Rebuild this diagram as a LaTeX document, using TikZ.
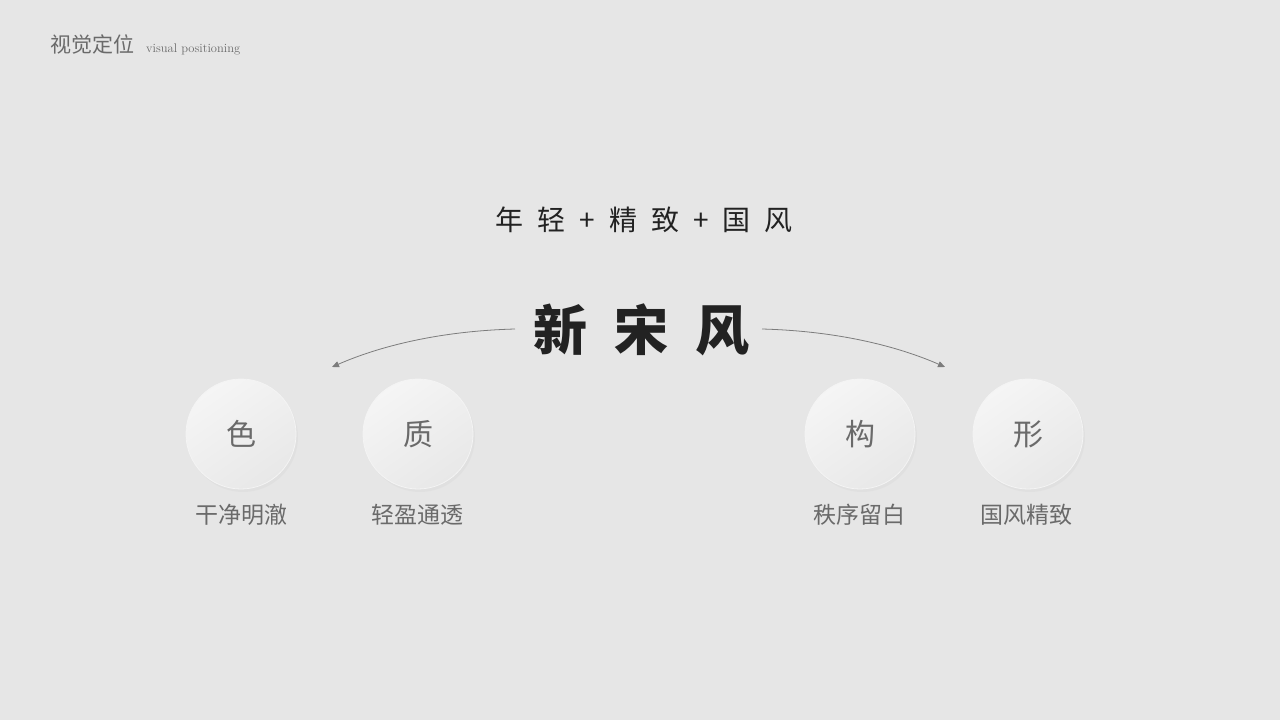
\documentclass[tikz,border=0pt]{standalone}
\usepackage{fontspec}
\newfontfamily\cjk{Noto Sans CJK SC}
\usetikzlibrary{arrows.meta,shadows}
\definecolor{bg}{HTML}{E6E6E6}
\definecolor{txtgray}{HTML}{6A6A6A}
\definecolor{ink}{HTML}{222222}
\definecolor{arrowgray}{HTML}{7C7C7C}
\definecolor{balltop}{HTML}{F5F5F5}
\definecolor{ballbot}{HTML}{E8E8E8}
\tikzset{
  ball/.style={circle, minimum size=110pt, inner sep=0pt,
    top color=balltop, bottom color=ballbot, shading angle=35,
    draw=white!55!bg, line width=0.8pt,
    drop shadow={opacity=0.05, shadow xshift=2pt, shadow yshift=-3pt},
    font=\cjk\fontsize{30}{30}\selectfont, text=txtgray},
  caption/.style={font=\cjk\fontsize{23}{23}\selectfont, text=txtgray},
  bend arrow/.style={arrowgray, line width=0.8pt, -{Triangle[length=7pt,width=6pt]}}
}
\begin{document}
\begin{tikzpicture}[x=1pt,y=-1pt]

\fill[bg] (0,0) rectangle (1280,720);
\useasboundingbox (0,0) rectangle (1280,720);

% header
\node[anchor=west, inner sep=0pt, text=txtgray, font=\cjk\fontsize{21}{21}\selectfont] (hdr) at (50,44) {视觉定位};
\node[anchor=base west, inner sep=0pt, text=txtgray, font=\fontsize{12.5}{12.5}\selectfont] (hdren) at (146,52) {visual positioning};

% headline
\node[text=ink, font=\cjk\fontsize{28}{28}\selectfont] (slogan) at (644,220)
  {年\hspace{14pt}轻\hspace{14pt}+\hspace{14pt}精\hspace{14pt}致\hspace{14pt}+\hspace{14pt}国\hspace{14pt}风};
\node[text=ink, font=\cjk\bfseries\fontsize{54}{54}\selectfont] (xsf) at (641,330)
  {新\hspace{27pt}宋\hspace{27pt}风};

% arrows
\coordinate (ls) at (515,329);
\coordinate (le) at (332,367);
\coordinate (rs) at (762,329);
\coordinate (re) at (945,367);
\draw[bend arrow] (ls) .. controls (440,331) and (380,346) .. (le);
\draw[bend arrow] (rs) .. controls (837,331) and (897,346) .. (re);

% four balls
\node[ball] (se) at (241,434) {色};
\node[ball] (zhi) at (418,434) {质};
\node[ball] (gou) at (860,434) {构};
\node[ball] (xing) at (1028,434) {形};

\node[caption] (cse) at (241,515) {干净明澈};
\node[caption] (czhi) at (417,515) {轻盈通透};
\node[caption] (cgou) at (859,515) {秩序留白};
\node[caption] (cxing) at (1026,515) {国风精致};

\end{tikzpicture}
\end{document}
